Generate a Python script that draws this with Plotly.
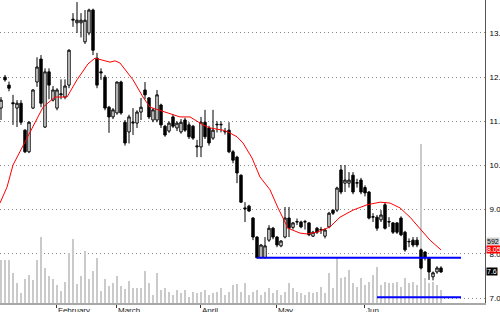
import plotly.graph_objects as go

# ---------------- data ----------------
opens = [11.30, 12.00, 11.82, 11.42, 11.30, 11.41, 10.80, 10.31, 11.30, 11.89,
         12.41, 10.87, 12.12, 11.48, 11.30, 11.60, 11.55, 11.82, 13.29, 13.23,
         13.23, 12.80, 13.00, 13.52, 12.43, 12.12, 12.00, 11.32, 11.10, 11.19,
         11.89, 10.98, 10.76, 10.96, 10.96, 11.21, 11.71, 11.53, 11.03, 11.03,
         11.37, 10.89, 10.78, 11.10, 10.85, 10.76, 11.03, 10.92, 10.89, 10.42,
         10.42, 10.98, 10.85, 10.62, 10.92, 10.92, 10.76, 10.80, 10.31, 10.19,
         9.78, 9.04, 9.08, 8.81, 8.38, 7.91, 7.91, 8.31, 8.58, 8.38,
         8.18, 8.38, 8.81, 8.60, 8.72, 8.72, 8.72, 8.70, 8.40, 8.58,
         8.54, 8.40, 8.61, 8.99, 8.99, 9.90, 9.60, 9.60, 9.78, 9.60,
         9.67, 9.50, 9.40, 8.83, 8.83, 8.77, 9.11, 8.72, 8.70, 8.70,
         8.81, 8.49, 8.27, 8.31, 8.31, 8.09, 8.04, 7.91, 7.48, 7.59, 7.68]
highs = [11.55, 12.05, 11.90, 11.60, 11.48, 11.48, 10.82, 11.00, 11.73, 12.45,
         12.50, 12.20, 12.20, 11.80, 11.75, 11.95, 11.95, 12.63, 13.45, 13.70,
         13.45, 13.52, 13.55, 13.55, 12.55, 12.20, 12.05, 11.35, 11.30, 11.90,
         11.92, 11.03, 11.15, 11.30, 11.25, 11.53, 11.89, 11.55, 11.30, 11.71,
         11.40, 10.92, 11.00, 11.15, 11.00, 11.05, 11.08, 10.98, 10.92, 10.58,
         11.10, 11.26, 10.90, 11.26, 11.00, 11.00, 10.85, 10.98, 10.35, 10.22,
         9.80, 9.17, 9.11, 8.83, 8.40, 8.22, 8.38, 8.65, 8.61, 8.40,
         8.31, 9.06, 9.06, 8.72, 8.80, 8.75, 8.77, 8.72, 8.52, 8.61,
         8.61, 8.58, 8.95, 9.00, 9.52, 10.01, 10.01, 9.85, 9.85, 9.70,
         9.72, 9.55, 9.42, 8.92, 8.88, 8.99, 9.17, 8.83, 8.72, 8.72,
         8.85, 8.52, 8.35, 8.38, 8.38, 8.12, 8.06, 7.93, 7.60, 7.72, 7.72]
lows = [11.03, 11.90, 11.68, 10.92, 10.87, 10.92, 10.28, 10.28, 11.28, 11.78,
        11.32, 10.85, 11.50, 11.45, 11.25, 11.50, 11.50, 11.75, 13.14, 13.00,
        12.90, 12.75, 12.95, 12.50, 11.75, 11.94, 11.25, 10.74, 11.05, 11.15,
        11.15, 10.45, 10.50, 10.69, 10.85, 11.03, 11.50, 11.05, 10.98, 10.98,
        10.85, 10.65, 10.74, 10.85, 10.78, 10.72, 10.76, 10.60, 10.58, 10.19,
        10.19, 10.60, 10.45, 10.58, 10.75, 10.75, 10.70, 10.28, 10.05, 9.60,
        9.15, 8.72, 8.95, 8.31, 7.90, 7.90, 7.90, 8.27, 8.33, 8.15,
        8.15, 8.35, 8.38, 8.55, 8.65, 8.58, 8.55, 8.40, 8.38, 8.45,
        8.45, 8.35, 8.58, 8.88, 8.95, 9.35, 9.40, 9.50, 9.35, 9.50,
        9.35, 9.30, 8.78, 8.72, 8.52, 8.72, 8.55, 8.61, 8.45, 8.45,
        8.40, 8.05, 8.15, 8.15, 8.15, 7.65, 7.85, 7.41, 7.40, 7.55, 7.57]
closes = [11.48, 11.94, 11.75, 11.40, 11.41, 10.98, 10.31, 10.98, 11.71, 12.23,
          11.41, 12.12, 11.82, 11.71, 11.71, 11.62, 11.80, 12.61, 13.31, 13.29,
          13.29, 13.29, 13.52, 12.61, 11.82, 12.10, 11.30, 11.10, 11.26, 11.89,
          11.19, 10.51, 11.10, 10.98, 11.21, 11.32, 11.60, 11.10, 11.26, 11.60,
          10.92, 10.69, 10.96, 10.89, 10.96, 10.98, 10.80, 10.65, 10.62, 10.44,
          10.98, 10.65, 10.51, 10.80, 10.93, 10.93, 10.77, 10.31, 10.12, 9.83,
          9.17, 9.02, 8.97, 8.38, 7.91, 8.20, 8.18, 8.58, 8.38, 8.20,
          8.29, 8.81, 8.58, 8.70, 8.73, 8.61, 8.73, 8.43, 8.49, 8.49,
          8.55, 8.54, 8.92, 8.92, 9.49, 9.40, 9.67, 9.67, 9.40, 9.61,
          9.40, 9.38, 8.81, 8.84, 8.58, 8.88, 8.58, 8.73, 8.49, 8.49,
          8.43, 8.09, 8.28, 8.20, 8.20, 7.68, 7.91, 7.59, 7.57, 7.68, 7.59]
volumes = [411, 411, 411, 287, 191, 96, 229, 267, 220, 411,
           630, 334, 258, 229, 172, 115, 201, 478, 611, 181,
           258, 497, 229, 306, 430, 115, 229, 162, 191, 258,
           162, 134, 210, 143, 143, 143, 306, 191, 76, 287,
           124, 143, 105, 76, 124, 96, 124, 57, 105, 96,
           105, 124, 76, 96, 105, 143, 76, 105, 172, 181,
           105, 191, 76, 105, 124, 76, 105, 143, 96, 124,
           76, 105, 191, 143, 105, 96, 76, 105, 96, 105,
           153, 96, 287, 143, 439, 239, 248, 315, 191, 153,
           239, 172, 201, 267, 344, 172, 201, 191, 191, 201,
           153, 239, 191, 201, 172, 1518, 239, 191, 201, 172, 124]

# moving average (position in trading days, value)
ma_idx = [-0.25, 1.5, 3.0, 5.25, 7.25, 10.5, 13.5, 16.5, 19.0, 21.75, 23.5,
          27.25, 28.5, 29.75, 33.0, 35.5, 37.25, 41.5, 44.75, 47.25, 50.5,
          52.25, 55.5, 56.75, 59.0, 60.5, 62.75, 64.75, 67.25, 69.25, 70.5,
          71.75, 74.75, 76.5, 79.0, 82.25, 84.75, 88.0, 91.5, 94.75, 97.25,
          99.75, 102.25, 104.75, 107.25, 110.0]
ma_val = [9.15, 9.51, 10.01, 10.40, 10.74, 11.32, 11.55, 11.55, 11.94, 12.30, 12.43,
          12.34, 12.37, 12.32, 11.94, 11.55, 11.32, 11.19, 11.10, 11.10, 10.92,
          10.85, 10.80, 10.76, 10.65, 10.51, 10.17, 9.74, 9.45, 9.04, 8.81,
          8.58, 8.47, 8.45, 8.49, 8.61, 8.83, 8.99, 9.11, 9.17, 9.15,
          9.04, 8.83, 8.58, 8.31, 8.09]

month_names = ["February", "March", "April", "May", "Jun"]
month_start_idx = [14, 29, 50, 69, 91]
price_ticks = [7, 8, 9, 10, 11, 12, 13]

support_levels = [7.91, 7.02]
support_start = [64, 94]
support_end = [115, 115]

volume_label = 592
ma_label = "8.05"
close_label = "7.6"

# ---------------- figure ----------------
idx = list(range(len(opens)))
fig = go.Figure()

fig.add_trace(go.Bar(x=idx, y=volumes, width=0.3, yaxis="y",
                     marker=dict(color="#cacaca", line=dict(width=0)),
                     hoverinfo="skip"))

fig.add_trace(go.Candlestick(
    x=idx, open=opens, high=highs, low=lows, close=closes, yaxis="y2",
    increasing=dict(line=dict(color="black", width=1), fillcolor="white"),
    decreasing=dict(line=dict(color="black", width=1), fillcolor="black"),
    whiskerwidth=0))

fig.add_trace(go.Scatter(x=ma_idx, y=ma_val, mode="lines", yaxis="y2",
                         line=dict(color="#ff0000", width=1), hoverinfo="skip"))

for lvl, s, e in zip(support_levels, support_start, support_end):
    fig.add_trace(go.Scatter(x=[s, e], y=[lvl, lvl], mode="lines", yaxis="y2",
                             line=dict(color="#0000ff", width=2), hoverinfo="skip"))

annotations = []
for name, m in zip(month_names, month_start_idx):
    annotations.append(dict(x=m - 0.25, xref="x", y=0, yref="paper",
                            xanchor="left", yanchor="top", yshift=-2, xshift=1,
                            text=name, showarrow=False, borderpad=0,
                            font=dict(size=8, color="#222")))

annotations.append(dict(x=1, xref="paper", y=volume_label, yref="y",
                        xanchor="left", yanchor="middle", xshift=1,
                        text=str(volume_label), showarrow=False, borderpad=0,
                        bgcolor="#d0d0d0", font=dict(size=7, color="black")))
annotations.append(dict(x=1, xref="paper", y=ma_val[-1], yref="y2",
                        xanchor="left", yanchor="middle", xshift=1,
                        text=ma_label, showarrow=False, borderpad=0,
                        bgcolor="#ff0000", font=dict(size=7, color="white")))
annotations.append(dict(x=1, xref="paper", y=closes[-1], yref="y2",
                        xanchor="left", yanchor="middle", xshift=1,
                        text=close_label, showarrow=False, borderpad=0,
                        bgcolor="#000000", font=dict(size=7, color="white")))

fig.update_layout(
    width=500, height=312,
    margin=dict(l=0, r=15, t=0, b=9),
    paper_bgcolor="white", plot_bgcolor="white",
    showlegend=False,
    boxgap=0.15,
    font=dict(family="Liberation Sans, Arial, sans-serif", size=8, color="black"),
    xaxis=dict(range=[-0.25, 121], showgrid=False, zeroline=False,
               showline=True, linecolor="#a8a8a8", linewidth=2,
               tickvals=[m - 0.25 for m in month_start_idx], ticks="outside",
               ticklen=3, tickcolor="#333", showticklabels=False,
               rangeslider=dict(visible=False), fixedrange=True),
    yaxis=dict(range=[0, 2894], visible=False, fixedrange=True),
    yaxis2=dict(overlaying="y", side="right", range=[6.887, 13.747],
                tickvals=price_ticks, ticktext=[f"{v:.1f}" for v in price_ticks],
                showgrid=True, gridcolor="#8a8a8a", griddash="1px,3px", gridwidth=1,
                zeroline=False, showline=True, linecolor="#555", linewidth=1,
                ticks="", ticklabelstandoff=2, automargin=False,
                tickfont=dict(size=8, color="black"), fixedrange=True),
    annotations=annotations,
)

fig.write_html("out.html")
